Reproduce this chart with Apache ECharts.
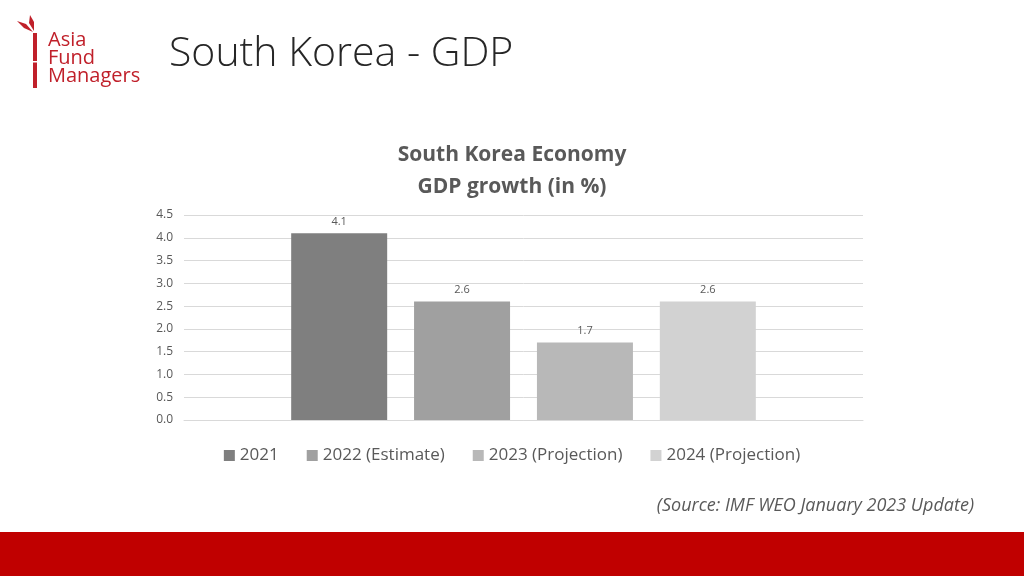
<!DOCTYPE html>
<html>
<head>
<meta charset="utf-8">
<title>South Korea - GDP</title>
<script src="https://cdn.jsdelivr.net/npm/echarts@6/dist/echarts.min.js"></script>
<style>
    html, body { margin: 0; padding: 0; background: #fff; }
    #chart { width: 1024px; height: 576px; }
</style>
</head>
<body>
<div id="chart"></div>
<script>
    // data
    const seriesNames = ['2021', '2022 (Estimate)', '2023 (Projection)', '2024 (Projection)'];
    const gdpGrowth = [4.1, 2.6, 1.7, 2.6];
    const barColors = ['#7f7f7f', '#a0a0a0', '#b8b8b8', '#d2d2d2'];
    const categories = [''];

    const font = '"Open Sans", "Noto Sans", sans-serif';

    let series = [];
    for (let i = 0; i < seriesNames.length; i++) {
        series.push({
            name: seriesNames[i],
            type: 'bar',
            barWidth: 96,
            barGap: '28%',
            itemStyle: {color: barColors[i]},
            label: {
                show: true,
                position: 'top',
                distance: 6,
                color: '#595959',
                fontSize: 11,
                fontFamily: font,
                formatter: function (p) { return p.value.toFixed(1) }
            },
            data: [gdpGrowth[i]]
        })
    }

    const chart = echarts.init(document.getElementById('chart'));
    const option = {
        backgroundColor: '#fff',
        animation: false,
        title: {
            text: 'South Korea Economy\nGDP growth (in %)',
            left: 'center',
            top: 134,
            textStyle: {
                color: '#595959',
                fontSize: 21,
                fontWeight: 'bold',
                lineHeight: 32,
                fontFamily: font
            }
        },
        legend: {
            data: seriesNames,
            top: 442,
            left: 'center',
            itemWidth: 11,
            itemHeight: 11,
            itemGap: 28,
            icon: 'rect',
            textStyle: {color: '#595959', fontSize: 17, fontFamily: font}
        },
        grid: {left: 184, right: 161, top: 215, bottom: 156},
        xAxis: {
            type: 'category',
            data: categories,
            axisLine: {lineStyle: {color: '#d9d9d9'}},
            axisTick: {show: false},
            axisLabel: {show: false}
        },
        yAxis: {
            type: 'value',
            min: 0,
            max: 4.5,
            interval: 0.5,
            axisLine: {show: false},
            axisTick: {show: false},
            axisLabel: {
                color: '#595959',
                fontSize: 12,
                fontFamily: font,
                margin: 11,
                formatter: function (v) { return v.toFixed(1) }
            },
            splitLine: {lineStyle: {color: '#d9d9d9'}}
        },
        graphic: [
            // slide title
            {
                type: 'text', left: 169, top: 34,
                style: {text: 'South Korea - GDP', fill: '#262626', font: '300 41px ' + font}
            },
            // source note
            {
                type: 'text', right: 50, top: 497,
                style: {text: '(Source: IMF WEO January 2023 Update)', fill: '#595959', font: 'italic 18px ' + font}
            },
            // red footer band
            {
                type: 'rect', left: 0, top: 532,
                shape: {width: 1024, height: 44},
                style: {fill: '#c00000'}
            },
            // logo: bamboo stem and leaves
            {
                type: 'rect', left: 33, top: 33,
                shape: {width: 4, height: 55},
                style: {fill: '#c0202a'}
            },
            {
                type: 'rect', left: 32, top: 61,
                shape: {width: 6, height: 1.5},
                style: {fill: '#ffffff'}
            },
            {
                type: 'polygon',
                shape: {points: [[33, 32], [24, 28], [17, 21], [26, 24]]},
                style: {fill: '#c0202a'}
            },
            {
                type: 'polygon',
                shape: {points: [[34, 31], [29, 23], [30, 15], [34, 22]]},
                style: {fill: '#c0202a'}
            },
            {
                type: 'text', left: 48, top: 30,
                style: {text: 'Asia\nFund\nManagers', fill: '#c0202a', font: '20px ' + font, lineHeight: 18}
            }
        ],
        series: series
    };
    chart.setOption(option);
</script>
</body>
</html>
